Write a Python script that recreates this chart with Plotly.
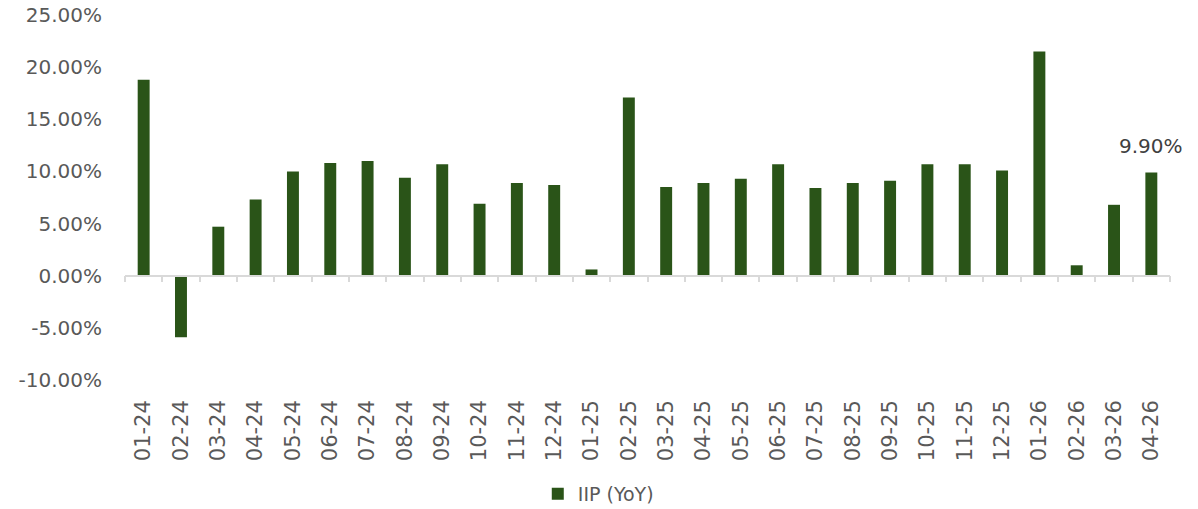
import plotly.graph_objects as go

months = ["01-24","02-24","03-24","04-24","05-24","06-24","07-24","08-24","09-24","10-24","11-24","12-24",
          "01-25","02-25","03-25","04-25","05-25","06-25","07-25","08-25","09-25","10-25","11-25","12-25",
          "01-26","02-26","03-26","04-26"]
iip_yoy = [18.8, -5.9, 4.7, 7.3, 10.0, 10.8, 11.0, 9.4, 10.7, 6.9, 8.9, 8.7,
           0.6, 17.1, 8.5, 8.9, 9.3, 10.7, 8.4, 8.9, 9.1, 10.7, 10.7, 10.1,
           21.5, 1.0, 6.8, 9.9]
series_name = "IIP (YoY)"
y_ticks = [-10, -5, 0, 5, 10, 15, 20, 25]
y_tick_labels = ["-10.00%", "-5.00%", "0.00%", "5.00%", "10.00%", "15.00%", "20.00%", "25.00%"]
y_min, y_max = -10, 25

green = "#2a5418"
grey_text = "#595959"
font_family = "DejaVu Sans, sans-serif"

fig = go.Figure()
fig.add_trace(go.Bar(x=months, y=iip_yoy, name=series_name, marker=dict(color=green, line=dict(width=0)),
                     xaxis="x", yaxis="y"))
# invisible trace for the zero-line axis
fig.add_trace(go.Scatter(x=months, y=[0]*len(months), xaxis="x2", yaxis="y", mode="markers",
                         marker=dict(opacity=0), showlegend=False, hoverinfo="skip"))

last = len(months) - 1
fig.add_annotation(x=months[last], y=iip_yoy[last], text=f"{iip_yoy[last]:.2f}%", showarrow=False,
                   yanchor="bottom", yshift=12, font=dict(size=20, color="#404040", family=font_family))

zero_pos = (0 - y_min) / (y_max - y_min)
x_range = [-0.5, len(months) - 0.5]

fig.update_layout(
    width=1198, height=509,
    margin=dict(l=125, r=28, t=15, b=129, autoexpand=False),
    paper_bgcolor="white", plot_bgcolor="white",
    bargap=0.68,
    font=dict(family=font_family, color=grey_text, size=20),
    showlegend=True,
    legend=dict(orientation="h", x=0.395, xanchor="left", y=-0.312, yanchor="middle",
                font=dict(size=19, color=grey_text), itemwidth=30),
    xaxis=dict(type="category", range=x_range, showline=False, ticks="", tickangle=-90, showgrid=False,
               automargin=False, tickfont=dict(size=21, color=grey_text), ticklabelstandoff=15),
    xaxis2=dict(type="category", matches="x", overlaying="x", anchor="free", position=zero_pos,
                showline=True, linecolor="#d9d9d9", linewidth=1.5, ticks="outside", tickson="boundaries",
                ticklen=6, tickcolor="#d9d9d9", tickwidth=1.5, showticklabels=False, showgrid=False,
                automargin=False),
    yaxis=dict(range=[y_min, y_max], tickvals=y_ticks, ticktext=y_tick_labels, showgrid=False,
               zeroline=False, showline=False, ticks="", tickfont=dict(size=20, color=grey_text),
               ticklabelstandoff=22, automargin=False, ticklabeloverflow="allow"),
)

fig.write_html("out.html", config={"displayModeBar": False},
               post_script="document.body.style.margin='0';")
